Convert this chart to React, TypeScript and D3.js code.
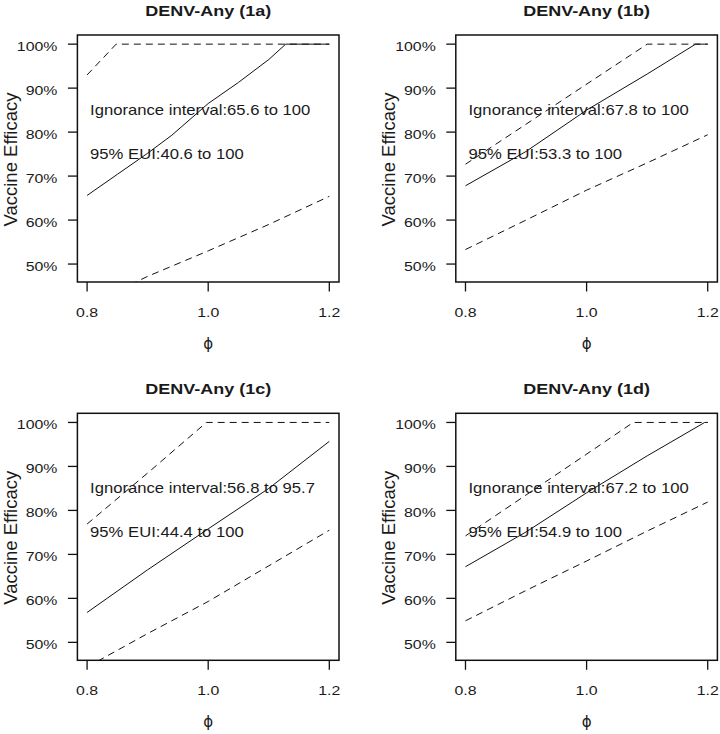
import React from "react";
import * as d3 from "d3";

// ---- data ----
const panelTitles = ["DENV-Any (1a)", "DENV-Any (1b)", "DENV-Any (1c)", "DENV-Any (1d)"];
const ignoranceLabels = [
  "Ignorance interval:65.6 to 100",
  "Ignorance interval:67.8 to 100",
  "Ignorance interval:56.8 to 95.7",
  "Ignorance interval:67.2 to 100",
];
const euiLabels = [
  "95% EUI:40.6 to 100",
  "95% EUI:53.3 to 100",
  "95% EUI:44.4 to 100",
  "95% EUI:54.9 to 100",
];

// panel 1a
const solidX_a = [0.8, 0.85, 0.9, 0.94, 1.0, 1.05, 1.1, 1.128, 1.2];
const solidY_a = [65.6, 70.4, 75.2, 79.3, 86.5, 91.3, 96.5, 100, 100];
const upperX_a = [0.8, 0.848, 1.2];
const upperY_a = [93.0, 100, 100];
const lowerX_a = [0.8, 0.9, 1.0, 1.1, 1.2];
const lowerY_a = [40.6, 47.2, 53.0, 59.0, 65.4];

// panel 1b
const solidX_b = [0.8, 0.9, 1.0, 1.1, 1.18, 1.2];
const solidY_b = [67.8, 75.6, 85.0, 93.2, 100, 100];
const upperX_b = [0.8, 1.1, 1.2];
const upperY_b = [72.7, 100, 100];
const lowerX_b = [0.8, 0.9, 1.0, 1.1, 1.2];
const lowerY_b = [53.3, 60.0, 66.8, 73.0, 79.4];

// panel 1c
const solidX_c = [0.8, 0.9, 1.0, 1.1, 1.2];
const solidY_c = [56.8, 66.5, 75.8, 85.0, 95.7];
const upperX_c = [0.8, 0.9, 0.997, 1.2];
const upperY_c = [76.9, 88.5, 100, 100];
const lowerX_c = [0.8, 0.9, 1.0, 1.1, 1.2];
const lowerY_c = [44.4, 52.0, 59.3, 67.4, 75.5];

// panel 1d
const solidX_d = [0.8, 0.9, 1.0, 1.1, 1.195, 1.2];
const solidY_d = [67.2, 75.1, 84.0, 92.4, 100, 100];
const upperX_d = [0.8, 0.9, 1.0, 1.077, 1.2];
const upperY_d = [74.2, 83.5, 92.8, 100, 100];
const lowerX_d = [0.8, 0.9, 1.0, 1.1, 1.2];
const lowerY_d = [54.9, 61.8, 68.5, 75.3, 81.9];

const xTicks = [0.8, 1.0, 1.2];
const xTickLabels = ["0.8", "1.0", "1.2"];
const yTicks = [50, 60, 70, 80, 90, 100];
const yTickLabels = ["50%", "60%", "70%", "80%", "90%", "100%"];
const yAxisTitle = "Vaccine Efficacy";
const xAxisTitle = "\u03D5";

const panelsData = [
  { solid: [solidX_a, solidY_a], upper: [upperX_a, upperY_a], lower: [lowerX_a, lowerY_a] },
  { solid: [solidX_b, solidY_b], upper: [upperX_b, upperY_b], lower: [lowerX_b, lowerY_b] },
  { solid: [solidX_c, solidY_c], upper: [upperX_c, upperY_c], lower: [lowerX_c, lowerY_c] },
  { solid: [solidX_d, solidY_d], upper: [upperX_d, upperY_d], lower: [lowerX_d, lowerY_d] },
];

// ---- layout ----
const W = 720;
const H = 734;
const BOX = { x0: 77.4, x1: 339, y0: 35, y1: 282 };
const DX = 378.4;
const DY = 378.3;
const FONT = "'Liberation Sans', Arial, Helvetica, sans-serif";

const SText = ({ x, y, sx = 1.2, anchor = "start", size = 13, weight = 400, children }: any) => (
  <text
    transform={`translate(${x},${y}) scale(${sx},1)`}
    textAnchor={anchor}
    fontSize={size}
    fontWeight={weight}
    fontFamily={FONT}
    fill="#1a1a1a"
  >
    {children}
  </text>
);

function Panel({ idx }: { idx: number }) {
  const col = idx % 2;
  const row = Math.floor(idx / 2);
  const ox = col * DX;
  const oy = row * DY;
  const x0 = BOX.x0 + ox, x1 = BOX.x1 + ox, y0 = BOX.y0 + oy, y1 = BOX.y1 + oy;
  const xs = d3.scaleLinear().domain([0.784, 1.216]).range([x0, x1]);
  const ys = d3.scaleLinear().domain([45.92, 102.08]).range([y1, y0]);
  const line = (xsArr: number[], ysArr: number[]) =>
    d3
      .line<number>()
      .x((_, i) => xs(xsArr[i]))
      .y((_, i) => ys(ysArr[i]))(ysArr) || "";
  const pd = panelsData[idx];
  const clipId = `clip${idx}`;
  const cx = (x0 + x1) / 2;
  const cy = (y0 + y1) / 2;
  return (
    <g>
      <defs>
        <clipPath id={clipId}>
          <rect x={x0} y={y0} width={x1 - x0} height={y1 - y0} />
        </clipPath>
      </defs>
      <SText x={cx} y={y0 - 19.5} anchor="middle" size={15} weight={700} sx={1.2}>
        {panelTitles[idx]}
      </SText>
      <g clipPath={`url(#${clipId})`} fill="none" stroke="#111" strokeWidth={1}>
        <path d={line(pd.upper[0], pd.upper[1])} strokeDasharray="7,5" />
        <path d={line(pd.lower[0], pd.lower[1])} strokeDasharray="7,5" />
        <path d={line(pd.solid[0], pd.solid[1])} />
      </g>
      <SText x={xs(0.8) + 3} y={ys(85) + 5} size={14} sx={1.19}>
        {ignoranceLabels[idx]}
      </SText>
      <SText x={xs(0.8) + 3} y={ys(75) + 5} size={14} sx={1.19}>
        {euiLabels[idx]}
      </SText>
      <rect x={x0} y={y0} width={x1 - x0} height={y1 - y0} fill="none" stroke="#111" strokeWidth={1.5} />
      {yTicks.map((t, i) => (
        <g key={"y" + t}>
          <line x1={x0 - 9.5} x2={x0} y1={ys(t)} y2={ys(t)} stroke="#111" strokeWidth={1.3} />
          <SText x={x0 - 20} y={ys(t) + 7} anchor="end" size={13} sx={1.22}>
            {yTickLabels[i]}
          </SText>
        </g>
      ))}
      {xTicks.map((t, i) => (
        <g key={"x" + t}>
          <line x1={xs(t)} x2={xs(t)} y1={y1} y2={y1 + 9.5} stroke="#111" strokeWidth={1.3} />
          <SText x={xs(t)} y={y1 + 34.5} anchor="middle" size={13} sx={1.22}>
            {xTickLabels[i]}
          </SText>
        </g>
      ))}
      <text
        transform={`translate(${ox + 16.7},${cy + 1}) rotate(-90)`}
        textAnchor="middle"
        fontSize={18.5}
        fontFamily={FONT}
        fill="#1a1a1a"
      >
        {yAxisTitle}
      </text>
      <text x={cx} y={y1 + 67} textAnchor="middle" fontSize={15} fontFamily="'DejaVu Sans', sans-serif" fill="#1a1a1a">
        {xAxisTitle}
      </text>
    </g>
  );
}

export default function App() {
  return (
    <svg
      width={W}
      height={H}
      viewBox={`0 0 ${W} ${H}`}
      style={{ position: "absolute", left: 0, top: 0, background: "#fff", display: "block" }}
    >
      <rect width={W} height={H} fill="#fff" />
      {[0, 1, 2, 3].map((i) => (
        <Panel key={i} idx={i} />
      ))}
    </svg>
  );
}
